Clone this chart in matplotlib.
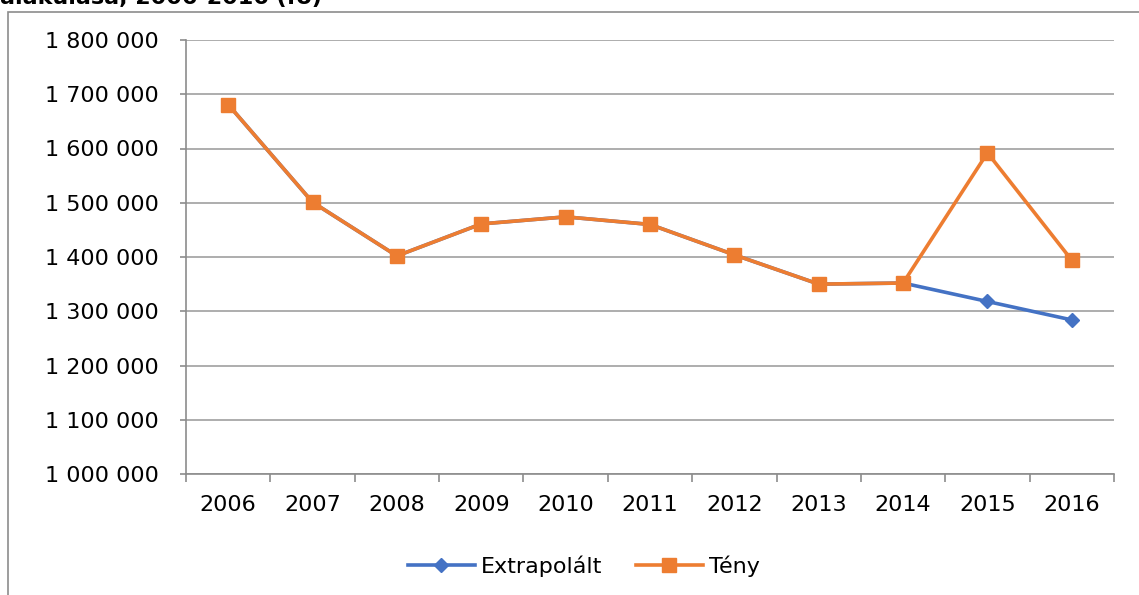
import matplotlib.pyplot as plt
from matplotlib.patches import Rectangle
from matplotlib.ticker import FuncFormatter

plt.rcParams['font.family'] = ['DejaVu Sans']

years = ['2006', '2007', '2008', '2009', '2010', '2011', '2012', '2013', '2014', '2015', '2016']
extrapolalt = [1681000, 1501000, 1402000, 1461000, 1474000, 1460000, 1404000, 1350000, 1352000, 1318000, 1284000]
teny = [1681000, 1501000, 1402000, 1461000, 1474000, 1460000, 1404000, 1350000, 1352000, 1592000, 1394000]

blue = '#4472C4'
orange = '#ED7D31'

fig = plt.figure(figsize=(11.39, 5.95), dpi=100)
W, H = 1139, 595
ax = fig.add_axes([186 / W, 1 - 474 / H, (1114 - 186) / W, (474 - 40) / H])

x = list(range(len(years)))
ax.plot(x, extrapolalt, color=blue, lw=2.6, marker='D', ms=7, label='Extrapolált', zorder=3)
ax.plot(x, teny, color=orange, lw=2.6, marker='s', ms=10, label='Tény', zorder=4)

ax.set_xlim(-0.5, len(years) - 0.5)
ax.set_ylim(1000000, 1800000)
ax.set_yticks(range(1000000, 1800001, 100000))
ax.yaxis.set_major_formatter(FuncFormatter(lambda v, p: f'{int(v):,}'.replace(',', ' ')))
ax.set_xticks(x)
ax.set_xticklabels(years)
ax.set_xticks([i - 0.5 for i in range(len(years) + 1)], minor=True)
ax.tick_params(axis='x', which='major', length=0, pad=15, labelsize=16)
ax.tick_params(axis='x', which='minor', length=6, color='#8c8c8c', width=1.2, direction='out')
ax.tick_params(axis='y', length=4.5, color='#8c8c8c', width=1.2, pad=15, labelsize=16)

ax.grid(axis='y', color='#a0a0a0', lw=1.2)
ax.set_axisbelow(True)
for s in ['top', 'right']:
    ax.spines[s].set_visible(False)
for s in ['left', 'bottom']:
    ax.spines[s].set_color('#8c8c8c')
    ax.spines[s].set_linewidth(1.2)

leg = fig.legend(loc='center', bbox_to_anchor=(584 / W, 1 - 566 / H), ncol=2, frameon=False,
                 fontsize=16, handlelength=3, columnspacing=1.5, handletextpad=0.3)

# chart area frame, cut off at the right and bottom
fig.patches.append(Rectangle((8 / W, -0.1), 1.2, 1 - 12 / H + 0.1, transform=fig.transFigure,
                             fill=False, edgecolor='#8c8c8c', lw=1.2, clip_on=False))

fig.text(0, 1 - 4 / H, 'alakulása, 2006-2016 (fő)', fontsize=16, fontweight='bold',
         va='baseline', ha='left')

fig.savefig('out.png', dpi=100)
